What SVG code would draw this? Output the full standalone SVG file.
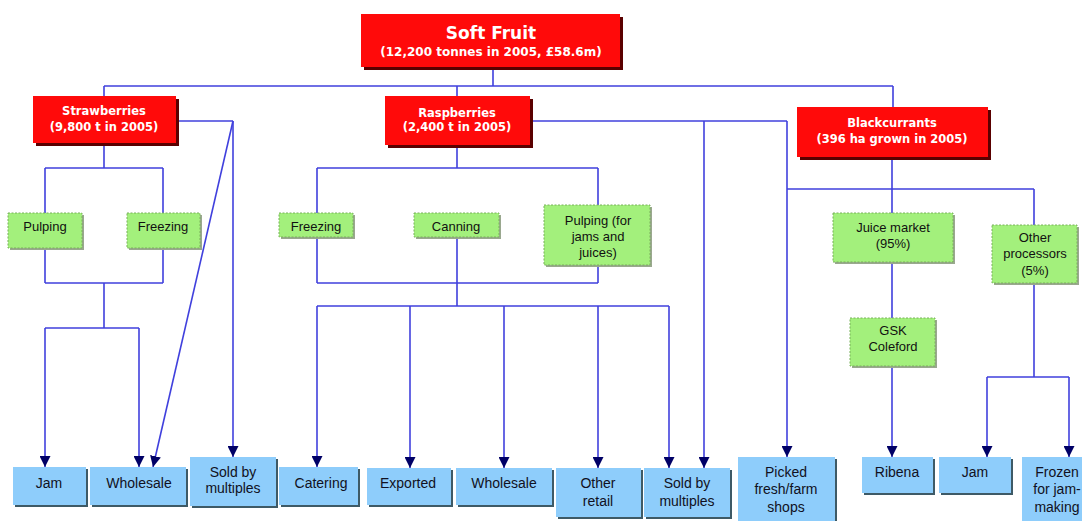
<svg xmlns="http://www.w3.org/2000/svg" width="1082" height="521" viewBox="0 0 1082 521">
<defs>
<marker id="arr" markerUnits="userSpaceOnUse" markerWidth="11" markerHeight="11" refX="10" refY="5" orient="auto" viewBox="0 0 10 10">
<path d="M0,0 L10,5 L0,10 z" fill="#000066"/>
</marker>
<style>
.bg{fill:#ffffff}
.red{fill:#ff0a0a}
.rsh{fill:#5a0000}
.grn{fill:#a3f07c;stroke:#78b05a;stroke-width:1;stroke-dasharray:2 1.5}
.gsh{fill:#9aa88f}
.blu{fill:#8ecdfb}
.bsh{fill:#3e5a66}
.ln{fill:none;stroke:#4040dd;stroke-width:1.6}
.ar{fill:none;stroke:#4040dd;stroke-width:1.6;marker-end:url(#arr)}
.rt{font-family:"DejaVu Sans",Verdana,sans-serif;font-weight:bold;fill:#ffffff;text-anchor:middle;font-size:11.5px}
.gt{font-family:"Liberation Sans",Arial,sans-serif;fill:#111111;text-anchor:middle;font-size:13px}
.bt{font-family:"Liberation Sans",Arial,sans-serif;fill:#111122;text-anchor:middle;font-size:14px}
</style>
</defs>
<rect class="bg" x="0" y="0" width="1082" height="521"/>

<g id="connectors">
<path class="ln" d="M493,67 V86 M104,86 H893 M104,86 V96 M457,86 V96 M893,86 V107"/>
<path class="ln" d="M176,121 H233"/>
<path class="ar" d="M233,121 V457"/>
<path class="ar" d="M233,121 L153,467"/>
<path class="ln" d="M104,143 V168 M45,168 H163 M45,168 V213 M163,168 V213"/>
<path class="ln" d="M45,248 V283 M163,248 V283 M45,283 H163 M104,283 V328 M45,328 H139"/>
<path class="ar" d="M45,328 V467"/>
<path class="ar" d="M139,328 V467"/>
<path class="ln" d="M457,145 V168 M317,168 H598 M317,168 V213 M598,168 V205"/>
<path class="ln" d="M317,237 V283 M598,265 V283 M317,283 H598 M457,237 V306 M317,306 H669"/>
<path class="ar" d="M317,306 V467"/>
<path class="ar" d="M410,306 V468"/>
<path class="ar" d="M504,306 V468"/>
<path class="ar" d="M598,306 V468"/>
<path class="ar" d="M669,306 V468"/>
<path class="ln" d="M530,121 H787"/>
<path class="ar" d="M704,121 V468"/>
<path class="ar" d="M787,121 V457"/>
<path class="ln" d="M787,189 H1034 M1034,189 V225 M892,157 V213 M892,262 V318"/>
<path class="ar" d="M892,366 V457"/>
<path class="ln" d="M1034,283 V377 M987,377 H1069"/>
<path class="ar" d="M987,377 V457"/>
<path class="ar" d="M1069,377 V457"/>
</g>

<g id="soft-fruit">
<rect class="rsh" x="364" y="17" width="259" height="53"/>
<rect class="red" x="361" y="14" width="259" height="53"/>
<text class="rt" x="491" y="39" style="font-size:17px">Soft Fruit</text>
<text class="rt" x="491" y="56" style="font-size:12px">(12,200 tonnes in 2005, £58.6m)</text>
</g>

<g id="strawberries">
<rect class="rsh" x="36" y="99" width="143" height="47"/>
<rect class="red" x="33" y="96" width="143" height="47"/>
<text class="rt" x="104" y="115">Strawberries</text>
<text class="rt" x="104" y="131">(9,800 t in 2005)</text>
</g>

<g id="raspberries">
<rect class="rsh" x="388" y="99" width="145" height="49"/>
<rect class="red" x="385" y="96" width="145" height="49"/>
<text class="rt" x="457" y="117">Raspberries</text>
<text class="rt" x="457" y="131">(2,400 t in 2005)</text>
</g>

<g id="blackcurrants">
<rect class="rsh" x="800" y="110" width="191" height="50"/>
<rect class="red" x="797" y="107" width="191" height="50"/>
<text class="rt" x="892" y="127">Blackcurrants</text>
<text class="rt" x="892" y="143">(396 ha grown in 2005)</text>
</g>

<g id="s-pulping">
<rect class="gsh" x="10" y="215" width="74" height="35"/>
<rect class="grn" x="8" y="213" width="74" height="35"/>
<text class="gt" x="45" y="231">Pulping</text>
</g>
<g id="s-freezing">
<rect class="gsh" x="129" y="215" width="73" height="35"/>
<rect class="grn" x="127" y="213" width="73" height="35"/>
<text class="gt" x="163" y="231">Freezing</text>
</g>
<g id="r-freezing">
<rect class="gsh" x="281" y="215" width="74" height="24"/>
<rect class="grn" x="279" y="213" width="74" height="24"/>
<text class="gt" x="316" y="231">Freezing</text>
</g>
<g id="r-canning">
<rect class="gsh" x="416" y="215" width="85" height="24"/>
<rect class="grn" x="414" y="213" width="85" height="24"/>
<text class="gt" x="456" y="231">Canning</text>
</g>
<g id="r-pulping">
<rect class="gsh" x="546" y="207" width="106" height="60"/>
<rect class="grn" x="544" y="205" width="106" height="60"/>
<text class="gt" x="598" y="225">Pulping (for</text>
<text class="gt" x="598" y="241">jams and</text>
<text class="gt" x="598" y="257">juices)</text>
</g>
<g id="juice-market">
<rect class="gsh" x="835" y="215" width="120" height="49"/>
<rect class="grn" x="833" y="213" width="120" height="49"/>
<text class="gt" x="893" y="232">Juice market</text>
<text class="gt" x="893" y="248">(95%)</text>
</g>
<g id="other-processors">
<rect class="gsh" x="994" y="227" width="85" height="58"/>
<rect class="grn" x="992" y="225" width="85" height="58"/>
<text class="gt" x="1035" y="242">Other</text>
<text class="gt" x="1035" y="258">processors</text>
<text class="gt" x="1035" y="275">(5%)</text>
</g>
<g id="gsk-coleford">
<rect class="gsh" x="852" y="320" width="85" height="48"/>
<rect class="grn" x="850" y="318" width="85" height="48"/>
<text class="gt" x="893" y="335">GSK</text>
<text class="gt" x="893" y="351">Coleford</text>
</g>

<g id="jam-1">
<rect class="bsh" x="15" y="469" width="73" height="38"/>
<rect class="blu" x="13" y="467" width="73" height="38"/>
<text class="bt" x="49" y="488">Jam</text>
</g>
<g id="wholesale-1">
<rect class="bsh" x="92" y="469" width="96" height="38"/>
<rect class="blu" x="90" y="467" width="96" height="38"/>
<text class="bt" x="139" y="488">Wholesale</text>
</g>
<g id="sold-1">
<rect class="bsh" x="192" y="459" width="86" height="49"/>
<rect class="blu" x="190" y="457" width="86" height="49"/>
<text class="bt" x="233" y="477">Sold by</text>
<text class="bt" x="233" y="493">multiples</text>
</g>
<g id="catering">
<rect class="bsh" x="281" y="469" width="79" height="38"/>
<rect class="blu" x="279" y="467" width="79" height="38"/>
<text class="bt" x="321" y="488">Catering</text>
</g>
<g id="exported">
<rect class="bsh" x="369" y="470" width="84" height="37"/>
<rect class="blu" x="367" y="468" width="84" height="37"/>
<text class="bt" x="408" y="488">Exported</text>
</g>
<g id="wholesale-2">
<rect class="bsh" x="458" y="470" width="96" height="37"/>
<rect class="blu" x="456" y="468" width="96" height="37"/>
<text class="bt" x="504" y="488">Wholesale</text>
</g>
<g id="other-retail">
<rect class="bsh" x="558" y="470" width="85" height="49"/>
<rect class="blu" x="556" y="468" width="85" height="49"/>
<text class="bt" x="598" y="488">Other</text>
<text class="bt" x="598" y="506">retail</text>
</g>
<g id="sold-2">
<rect class="bsh" x="646" y="470" width="86" height="49"/>
<rect class="blu" x="644" y="468" width="86" height="49"/>
<text class="bt" x="687" y="488">Sold by</text>
<text class="bt" x="687" y="506">multiples</text>
</g>
<g id="picked-fresh">
<rect class="bsh" x="740" y="459" width="97" height="66"/>
<rect class="blu" x="738" y="457" width="97" height="66"/>
<text class="bt" x="786" y="477">Picked</text>
<text class="bt" x="786" y="494">fresh/farm</text>
<text class="bt" x="786" y="512">shops</text>
</g>
<g id="ribena">
<rect class="bsh" x="864" y="459" width="71" height="36"/>
<rect class="blu" x="862" y="457" width="71" height="36"/>
<text class="bt" x="897" y="477">Ribena</text>
</g>
<g id="jam-2">
<rect class="bsh" x="941" y="459" width="72" height="36"/>
<rect class="blu" x="939" y="457" width="72" height="36"/>
<text class="bt" x="975" y="477">Jam</text>
</g>
<g id="frozen">
<rect class="bsh" x="1024" y="459" width="66" height="66"/>
<rect class="blu" x="1022" y="457" width="66" height="66"/>
<text class="bt" x="1057" y="477">Frozen</text>
<text class="bt" x="1057" y="494">for jam-</text>
<text class="bt" x="1057" y="512">making</text>
</g>
</svg>
